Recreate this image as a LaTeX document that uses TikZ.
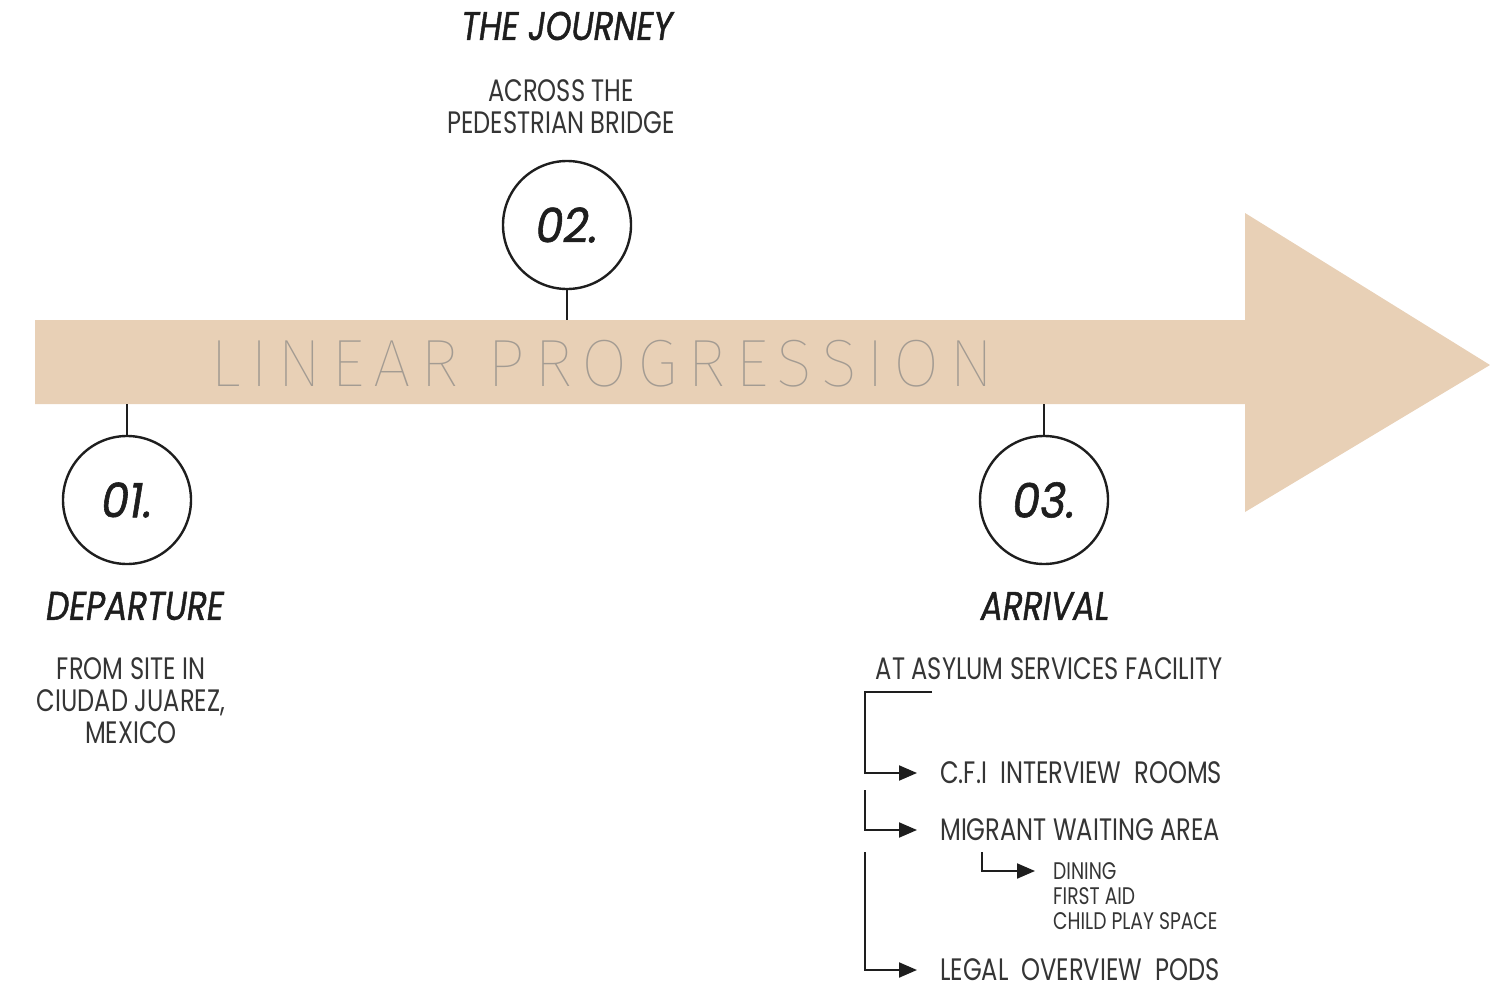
\documentclass[tikz,border=0pt]{standalone}
\usepackage{fontspec}
\setmainfont{Poppins}[FakeStretch=0.78]
\newfontfamily\headfont{Poppins}[FakeStretch=0.82, FakeBold=1.2]
\newfontfamily\numfont{Poppins}[FakeStretch=0.92, FakeBold=1.2]
\newfontfamily\thinfont{Fira Sans Thin}[LetterSpace=14]
\usetikzlibrary{arrows.meta, positioning}
\definecolor{tan}{HTML}{E8D0B6}
\definecolor{ink}{HTML}{1E1E1E}
\definecolor{fadetext}{HTML}{A39B92}

\begin{document}
\begin{tikzpicture}[x=1pt,y=-1pt,
  stage/.style={circle, draw=ink, line width=2.4pt, minimum size=128pt, inner sep=0pt,
    font=\numfont\itshape\fontsize{48}{48}\selectfont, text=ink},
  stem/.style={draw=ink, line width=2pt},
  title/.style={font=\headfont\itshape\fontsize{40}{40}\selectfont, text=ink},
  info/.style={align=center, font=\fontsize{31}{32}\selectfont, text=ink!90},
  item/.style={anchor=west, inner xsep=23pt, inner ysep=0pt, font=\fontsize{31}{32}\selectfont, text=ink!90},
  subitem/.style={anchor=west, inner sep=0pt, font=\fontsize{24}{25}\selectfont, text=ink!90},
  listarrow/.style={draw=ink, line width=2pt, -{Triangle[length=18pt, width=15pt]}}]
\useasboundingbox (0,0) rectangle (1490,987);

% big arrow
\fill[tan] (35,320) -- (1245,320) -- (1245,213) -- (1490,365) -- (1245,512)
  -- (1245,404) -- (35,404) -- cycle;
\node[anchor=base west, inner sep=0pt, text=fadetext,
  font=\thinfont\fontsize{67}{67}\selectfont] (prog) at (210,386) {LINEAR PROGRESSION};

% stages
\node[stage] (c1) at (127,500) {01.};
\node[stage] (c2) at (567,225) {02.};
\node[stage] (c3) at (1044,500) {03.};
\coordinate (s1) at (127,404);
\coordinate (s2) at (567,320);
\coordinate (s3) at (1044,404);
\draw[stem] (c1) -- (s1);
\draw[stem] (c2) -- (s2);
\draw[stem] (c3) -- (s3);

% texts
\node[title] (journey) at (567,26) {THE JOURNEY};
\node[info] (bridge) at (561,107) {ACROSS THE\\PEDESTRIAN BRIDGE};
\node[title] (depart) at (135,606) {DEPARTURE};
\node[info] (site) at (131,701) {FROM SITE IN\\CIUDAD JUAREZ,\\MEXICO};
\node[title] (arrive) at (1045,606) {ARRIVAL};
\node[info] (facility) at (1049,669) {AT ASYLUM SERVICES FACILITY};

% facility list
\node[item] (cfi) at (917,773) {C.F.I\ \ INTERVIEW\ \ ROOMS};
\node[item] (wait) at (917,830) {MIGRANT WAITING AREA};
\node[item] (legal) at (917,970) {LEGAL\ \ OVERVIEW\ \ PODS};
\node[subitem] (dining) at (1053,871) {DINING};
\node[subitem] (aid) at (1053,896) {FIRST AID};
\node[subitem] (play) at (1053,921) {CHILD PLAY SPACE};

\coordinate (spine) at (865,692);
\coordinate (b1) at (932,692);
\coordinate (b2) at (865,790);
\coordinate (b3) at (865,852);
\coordinate (b4) at (982,852);
\draw[listarrow] (b1) -- (spine) |- (cfi.west);
\draw[listarrow] (b2) |- (wait.west);
\draw[listarrow] (b3) |- (legal.west);
\draw[listarrow] (b4) |- ([xshift=-18pt]dining.west);
\end{tikzpicture}
\end{document}
